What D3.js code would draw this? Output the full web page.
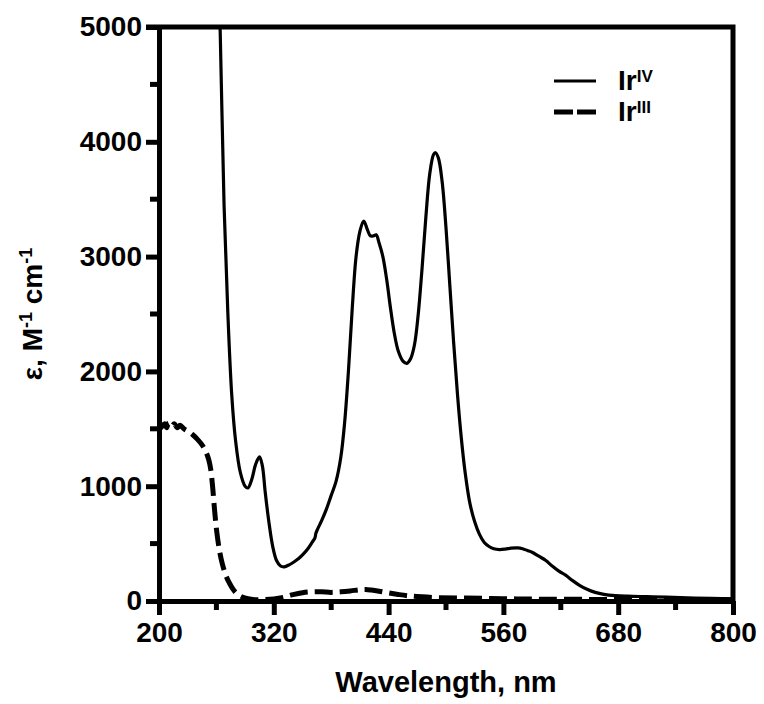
<!DOCTYPE html>
<html>
<head>
<meta charset="utf-8">
<script src="https://cdn.jsdelivr.net/npm/d3@7"></script>
<style>
  body { margin: 0; background: #fff; }
  text { font-family: "Liberation Sans", Arial, sans-serif; font-weight: bold; fill: #000; }
</style>
</head>
<body>
<div id="chart"></div>
<script>
// Ir(IV) spectrum (nm, M-1 cm-1)
const irIVWl = [260, 264, 268, 272, 276, 280, 285, 290, 293, 297, 301, 305, 308, 311, 315, 319, 323, 327, 331, 336,
  341, 346, 351, 356, 360, 363, 364, 366, 370, 375, 380, 385, 390, 394, 398, 402, 406, 410, 414, 418,
  421, 424, 427, 430, 434, 438, 442, 446, 450, 455, 459, 463, 467, 471, 475, 479, 483, 487, 489, 492,
  496, 500, 504, 508, 512, 516, 520, 525, 530, 535, 540, 545, 550, 556, 562, 568, 575, 580, 585, 590,
  597, 604, 611, 618, 625, 632, 640, 648, 656, 665, 677, 690, 710, 730, 760, 800];
const irIVEps = [6200, 4950, 3450, 2500, 1800, 1400, 1120, 1000, 985, 1060, 1190, 1255, 1180, 950, 680, 470, 350, 305, 298, 315,
  340, 370, 410, 460, 510, 550, 590, 630, 700, 800, 920, 1040, 1250, 1550, 2000, 2550, 3000, 3220, 3310, 3230,
  3180, 3180, 3190, 3120, 3000, 2800, 2550, 2330, 2180, 2090, 2070, 2110, 2230, 2500, 2900, 3350, 3720, 3890, 3905, 3860,
  3650, 3250, 2750, 2250, 1800, 1420, 1120, 850, 690, 580, 510, 475, 455, 448, 452, 460, 462, 455, 440, 425,
  390, 355, 305, 260, 225, 180, 135, 100, 75, 58, 47, 42, 38, 34, 26, 18];

// Ir(III) spectrum
const irIIIWl = [200, 203, 206, 208, 210, 213, 216, 219, 222, 226, 230, 235, 240, 245, 249, 252, 254, 256, 258, 260,
  263, 266, 270, 274, 278, 282, 287, 293, 300, 310, 320, 330, 340, 350, 360, 370, 380, 390, 400, 410,
  416, 422, 430, 440, 450, 460, 475, 490, 520, 560, 600, 650, 700, 750, 800];
const irIIIEps = [1490, 1520, 1545, 1510, 1550, 1520, 1545, 1510, 1530, 1500, 1480, 1450, 1410, 1360, 1300, 1230, 1150, 1000, 800, 630,
  450, 330, 220, 150, 95, 60, 35, 20, 12, 12, 18, 32, 55, 72, 80, 80, 75, 80, 88, 98,
  100, 95, 85, 70, 57, 46, 36, 30, 26, 20, 16, 14, 12, 10, 10];

const xTicks = [200, 320, 440, 560, 680, 800];
const xMinor = [260, 380, 500, 620, 740];
const yTicks = [0, 1000, 2000, 3000, 4000, 5000];
const yMinor = [500, 1500, 2500, 3500, 4500];

const width = 764;
const height = 704;
const margin = {top: 27, right: 31, bottom: 103, left: 159};

const xScale = d3.scaleLinear()
    .domain([200, 800])
    .range([margin.left, width - margin.right]);

const yScale = d3.scaleLinear()
    .domain([0, 5000])
    .range([height - margin.bottom, margin.top]);

var svg = d3.select("#chart").append("svg")
  .attr("width", width)
  .attr("height", height)
  .attr("viewBox", [0, 0, width, height]);

svg.append("clipPath").attr("id", "plot")
  .append("rect")
    .attr("x", margin.left)
    .attr("y", margin.top)
    .attr("width", width - margin.left - margin.right)
    .attr("height", height - margin.top - margin.bottom);

var lineFunc = d3.line()
  .curve(d3.curveCatmullRom.alpha(0.5))
  .x(d => xScale(d[0]))
  .y(d => yScale(d[1]));

// dashed Ir(III)
svg.append("path")
  .attr("d", lineFunc(d3.zip(irIIIWl, irIIIEps)))
  .attr("clip-path", "url(#plot)")
  .attr("fill", "none")
  .attr("stroke", "#000")
  .attr("stroke-width", 5)
  .attr("stroke-dasharray", "18,7");

// solid Ir(IV)
svg.append("path")
  .attr("d", lineFunc(d3.zip(irIVWl, irIVEps)))
  .attr("clip-path", "url(#plot)")
  .attr("fill", "none")
  .attr("stroke", "#000")
  .attr("stroke-width", 3.2);

// frame top + right
svg.append("path")
  .attr("d", `M${xScale(200) - 13},${yScale(5000)}H${xScale(800)}V${yScale(0)}`)
  .attr("fill", "none")
  .attr("stroke", "#000")
  .style("stroke-width", "5px");

const xAxis = g => g
    .attr("transform", `translate(0,${yScale(0)})`)
    .call(d3.axisBottom(xScale).tickValues(xTicks).tickSize(14).tickSizeOuter(0).tickPadding(7));

const yAxis = g => g
    .attr("transform", `translate(${xScale(200)},0)`)
    .call(d3.axisLeft(yScale).tickValues(yTicks).tickFormat(d3.format("d"))
      .tickSize(13).tickSizeOuter(0).tickPadding(4));

var gx = svg.append("g").call(xAxis);
var gy = svg.append("g").call(yAxis);

// minor ticks
gx.selectAll(".minor").data(xMinor).enter().append("line")
  .attr("x1", d => xScale(d)).attr("x2", d => xScale(d))
  .attr("y1", 0).attr("y2", 9);
gy.selectAll(".minor").data(yMinor).enter().append("line")
  .attr("y1", d => yScale(d)).attr("y2", d => yScale(d))
  .attr("x1", 0).attr("x2", -9);

svg.selectAll(".domain, g line")
  .attr("stroke", "#000")
  .style("stroke-width", "5px");
svg.selectAll(".tick text")
  .style("font-size", "28px")
  .style("font-family", "'Liberation Sans', Arial, sans-serif")
  .style("font-weight", "bold");

// axis titles
svg.append("text")
  .attr("x", (xScale(200) + xScale(800)) / 2)
  .attr("y", 692)
  .attr("text-anchor", "middle")
  .style("font-size", "29px")
  .text("Wavelength, nm");

var yt = svg.append("text")
  .attr("transform", `translate(42,${(yScale(0) + yScale(5000)) / 2}) rotate(-90)`)
  .attr("text-anchor", "middle")
  .style("font-size", "28px");
yt.append("tspan").text("ε, M");
yt.append("tspan").attr("dy", -10).style("font-size", "18px").text("-1");
yt.append("tspan").attr("dy", 10).text(" cm");
yt.append("tspan").attr("dy", -10).style("font-size", "18px").text("-1");

// legend
const legendNames = ["IV", "III"];
const legendDash = [null, "19,4"];
legendNames.forEach((n, i) => {
  const ly = 81 + i * 31;
  svg.append("line")
    .attr("x1", 554).attr("x2", 596)
    .attr("y1", ly).attr("y2", ly)
    .attr("stroke", "#000")
    .attr("stroke-width", i == 0 ? 3.2 : 5)
    .attr("stroke-dasharray", legendDash[i]);
  var t = svg.append("text")
    .attr("x", 618)
    .attr("y", ly + 9)
    .style("font-size", "28px");
  t.append("tspan").text("Ir");
  t.append("tspan").attr("dy", -8).style("font-size", "17px").text(n);
});
</script>
</body>
</html>
